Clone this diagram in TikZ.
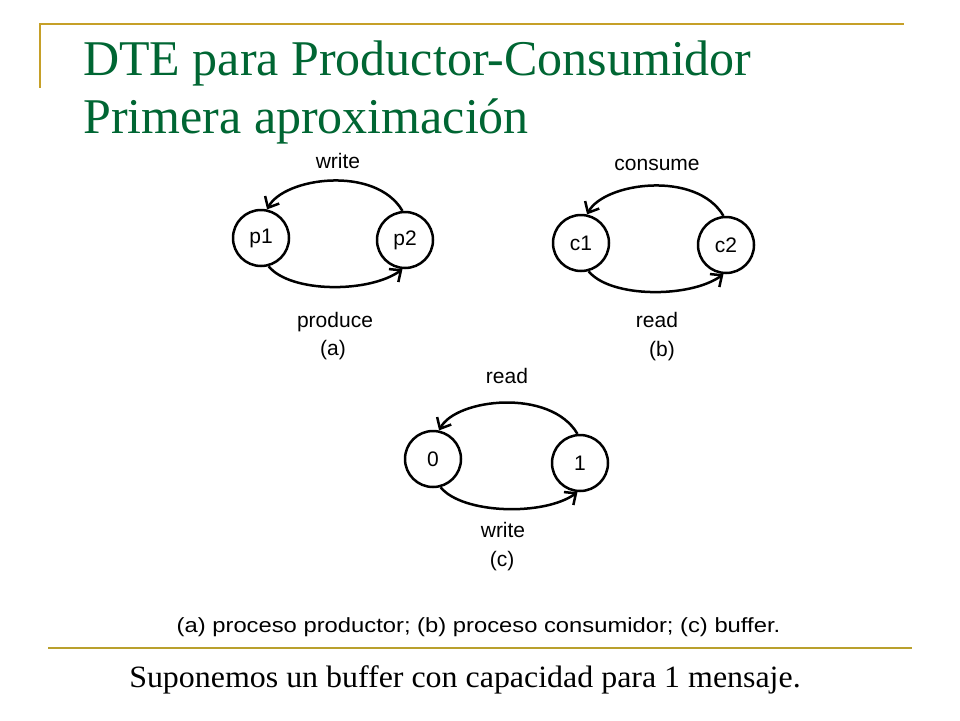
\documentclass[tikz,border=0pt]{standalone}
\usepackage{fontspec}
\usepackage{graphicx}
\setmainfont{Liberation Serif}
\newfontfamily\arialf{Liberation Sans}
\usetikzlibrary{arrows.meta}
\definecolor{titlegreen}{RGB}{0,102,51}
\definecolor{goldline}{RGB}{198,160,40}
\definecolor{goldlineb}{RGB}{185,160,45}
\begin{document}
\begin{tikzpicture}[x=1pt,y=-1pt,
  state/.style={circle,draw,line width=2.5pt,minimum size=56pt,inner sep=0pt,
    font=\arialf\fontsize{21}{24}\selectfont},
  lbl/.style={anchor=base,inner sep=0pt,font=\arialf\fontsize{21}{24}\selectfont},
  trans/.style={line width=2.5pt,-{Straight Barb[length=9pt,width=16pt]}},
  goldrule/.style={line width=2.4pt},
  titletext/.style={anchor=base west,inner sep=0pt,text=titlegreen,
    font=\fontsize{50}{58}\selectfont}]
\useasboundingbox[fill=white] (0,0) rectangle (960,720);
% decorative rules
\draw[goldrule,goldline] (39,24) -- (904,24);
\draw[goldrule,goldline] (40,23) -- (40,88);
\draw[goldrule,goldlineb] (48,648) -- (912,648);
% title
\node[titletext] (t1) at (83,75) {DTE para Productor-Consumidor};
\node[titletext] (t2) at (83,133) {Primera aproximación};
% states
\node[state] (p1) at (261,238) {p1};
\node[state] (p2) at (405,240) {p2};
\node[state] (c1) at (581,243) {c1};
\node[state] (c2) at (726,245) {c2};
\node[state] (s0) at (433,459) {0};
\node[state] (s1) at (580,463) {1};
% transitions
\draw[trans] (p2.95) .. controls +(-27,-46) and +(17,-32) .. (p1.78);
\draw[trans] (p1.-75) .. controls +(22,27) and +(-33,24) .. (p2.-95);
\draw[trans] (c2.95) .. controls +(-27,-46) and +(17,-32) .. (c1.78);
\draw[trans] (c1.-75) .. controls +(22,27) and +(-33,24) .. (c2.-95);
\draw[trans] (s1.95) .. controls +(-27,-46) and +(17,-32) .. (s0.78);
\draw[trans] (s0.-75) .. controls +(22,27) and +(-33,24) .. (s1.-95);
% labels
\node[lbl] (la1) at (338,168) {write};
\node[lbl] (la2) at (335,327) {produce};
\node[lbl] (la3) at (333,355) {(a)};
\node[lbl] (lb1) at (657,170) {consume};
\node[lbl] (lb2) at (657,327) {read};
\node[lbl] (lb3) at (662,356) {(b)};
\node[lbl] (lc1) at (507,383) {read};
\node[lbl] (lc2) at (503,537) {write};
\node[lbl] (lc3) at (502,566) {(c)};
% captions
\node[anchor=base,inner sep=0pt,font=\arialf\fontsize{20.5}{24}\selectfont] (cap) at (478.5,632)
  {\scalebox{1.16}[1]{(a) proceso productor; (b) proceso consumidor; (c) buffer.}};
\node[anchor=base,inner sep=0pt,font=\fontsize{31}{36}\selectfont] (note) at (465,687)
  {\scalebox{1.03}[1]{Suponemos un buffer con capacidad para 1 mensaje.}};
\end{tikzpicture}
\end{document}
